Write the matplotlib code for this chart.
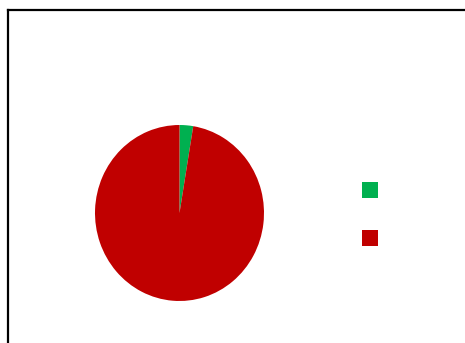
import matplotlib.pyplot as plt
from matplotlib.lines import Line2D

# dati della torta
etichette = ["", ""]
valori = [2.6, 97.4]
colori = ["#00B050", "#C00000"]

fig = plt.figure(figsize=(4.65, 3.43), dpi=100)
fig.patch.set_facecolor("white")

# cornice nera (esce dal bordo a destra e in basso)
W, H = 465, 343
fig.add_artist(Line2D([8 / W, 8 / W], [-0.1, 1 - 10 / H], color="black", lw=1.6, transform=fig.transFigure))
fig.add_artist(Line2D([8 / W, 1.1], [1 - 10 / H, 1 - 10 / H], color="black", lw=1.6, transform=fig.transFigure))

# torta leggermente piu alta che larga, come nell'originale
ax = fig.add_axes([95 / W, 1 - 301 / H, 169 / W, 176 / H])
spicchi, _ = ax.pie(valori, colors=colori, startangle=90, counterclock=False,
                    wedgeprops={"linewidth": 0})
ax.set_xlim(-1, 1)
ax.set_ylim(-1, 1)
ax.set_aspect("auto")

fig.legend(spicchi, etichette, loc="center left", bbox_to_anchor=(362 / W, 1 - 214 / H),
           frameon=False, fontsize=11, handlelength=1.05, handleheight=1.23,
           handletextpad=0, borderpad=0, borderaxespad=0, labelspacing=2.07)

fig.savefig("out.png", dpi=100)
